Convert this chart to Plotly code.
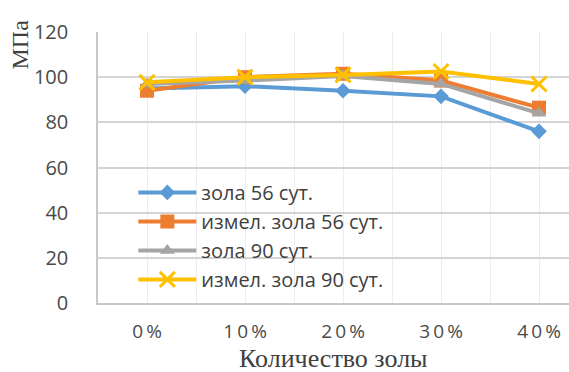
import plotly.graph_objects as go

# Ash content (share of cement replaced)
ash_labels = ["0%", "10%", "20%", "30%", "40%"]

# Compressive strength, MPa
ash_56 = [95, 96, 94, 91.5, 76]
ground_ash_56 = [94, 100, 101.5, 98.5, 86.5]
ash_90 = [97, 98.5, 100.5, 97, 84]
ground_ash_90 = [97.7, 100, 101, 102.5, 97]

series_names = ["зола 56 сут.", "измел. зола 56 сут.", "зола 90 сут.", "измел. зола 90 сут."]
series_values = [ash_56, ground_ash_56, ash_90, ground_ash_90]
series_colors = ["#5B9BD5", "#ED7D31", "#A5A5A5", "#FFC000"]
series_symbols = ["diamond", "square", "triangle-up", "x-thin"]
series_sizes = [12, 14, 13, 15]

x_pos = list(range(len(ash_labels)))
spaced_labels = ["\u2009".join(lbl) for lbl in ash_labels]

fig = go.Figure()
for i, (name, vals, col, sym, sz) in enumerate(
        zip(series_names, series_values, series_colors, series_symbols, series_sizes)):
    marker = dict(symbol=sym, size=sz, color=col)
    if sym == "x-thin":
        marker["line"] = dict(color=col, width=3)
    fig.add_trace(go.Scatter(
        x=x_pos, y=vals, name=name, mode="lines+markers",
        line=dict(color=col, width=4),
        marker=marker,
        legendgroup=f"g{i}",
    ))

fig.update_layout(
    width=569, height=372,
    margin=dict(l=98, r=0, t=32, b=69),
    paper_bgcolor="white", plot_bgcolor="white",
    font=dict(family="Open Sans", color="#404040"),
    showlegend=True,
    legend=dict(
        x=0.075, y=0.48, xanchor="left", yanchor="top",
        bgcolor="rgba(255,255,255,0)",
        font=dict(family="Open Sans", size=20, color="#404040"),
        itemwidth=58, tracegroupgap=0,
    ),
    xaxis=dict(
        range=[-0.5, 4.306],
        tickvals=x_pos, ticktext=spaced_labels,
        tickfont=dict(family="Open Sans", size=19, color="#4a4a4a"),
        showgrid=True, gridcolor="#ededed", gridwidth=1,
        minor=dict(tickvals=[v + 0.5 for v in [-1] + x_pos], showgrid=True,
                   gridcolor="#ededed", gridwidth=1),
        showline=True, linecolor="#c8c8c8", linewidth=1.5,
        ticks="", ticklabelstandoff=10, zeroline=False,
    ),
    yaxis=dict(
        range=[0, 120], dtick=20,
        tickfont=dict(family="Open Sans", size=20, color="#4a4a4a"),
        showgrid=True, gridcolor="#d4d4d4", gridwidth=1.5,
        showline=True, linecolor="#c8c8c8", linewidth=1.5,
        ticks="", ticklabelstandoff=24, zeroline=False,
    ),
    annotations=[
        dict(
            text="МПа", textangle=-90, xref="paper", yref="paper",
            x=-0.165, y=0.955, xanchor="center", yanchor="middle",
            showarrow=False,
            font=dict(family="Liberation Serif", size=24, color="#404040"),
        ),
        dict(
            text="Количество золы", xref="paper", yref="paper",
            x=0.5, y=-0.205, xanchor="center", yanchor="middle",
            showarrow=False,
            font=dict(family="Liberation Serif", size=26, color="#404040"),
        ),
    ],
)

fig.write_html("out.html")
